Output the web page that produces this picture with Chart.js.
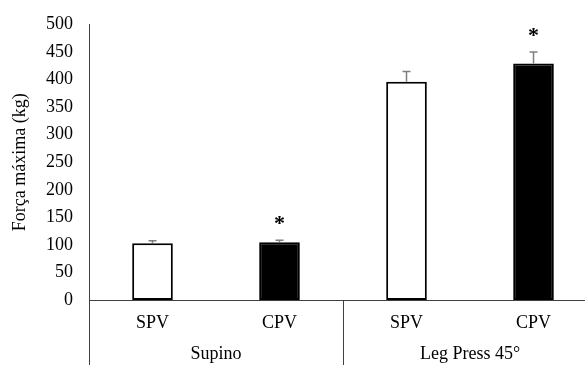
<!DOCTYPE html>
<html><head><meta charset="utf-8">
<script src="https://cdn.jsdelivr.net/npm/chart.js@4/dist/chart.umd.min.js"></script>
<style>
html,body{margin:0;padding:0;overflow:hidden;background:#fff;width:585px;height:365px}
#wrap{width:600px;height:365px;position:relative}
</style></head>
<body><div id="wrap"><canvas id="c" width="600" height="365"></canvas></div>
<script>
const categories = ['SPV', 'CPV', 'SPV', 'CPV'];
const groups = ['Supino', 'Leg Press 45°'];
const groupSize = 2;
const meanValues = [103, 104.7, 396, 429.4];
const sdValues = [4.6, 3.6, 18.5, 20.6];
const significant = [false, true, false, true];
const yMin = 0, yMax = 500, yStep = 50;
const yTitle = 'Força máxima (kg)';

const FONT = "'Liberation Serif', 'Times New Roman', serif";
Chart.defaults.font.family = FONT;
Chart.defaults.color = '#000';
const AXIS = '#404040';

const overlay = {
  id: 'overlay',
  afterDatasetsDraw(chart) {
    const ctx = chart.ctx, xs = chart.scales.x, ys = chart.scales.y;
    ctx.save();
    ctx.strokeStyle = '#7f7f7f';
    ctx.lineWidth = 1.5;
    meanValues.forEach((m, i) => {
      const x = xs.getPixelForValue(i);
      const y0 = ys.getPixelForValue(m);
      const y1 = ys.getPixelForValue(m + sdValues[i]);
      ctx.beginPath();
      ctx.moveTo(x, y0); ctx.lineTo(x, y1);
      ctx.moveTo(x - 4, y1); ctx.lineTo(x + 4, y1);
      ctx.stroke();
      if (significant[i]) {
        ctx.fillStyle = '#000';
        ctx.font = 'bold 22px ' + FONT;
        ctx.textAlign = 'center';
        ctx.textBaseline = 'middle';
        ctx.fillText('*', x, y1 - 20 + 3.8);
      }
    });
    ctx.restore();
  },
  afterDraw(chart) {
    const ctx = chart.ctx, xs = chart.scales.x;
    const bottom = chart.height;
    ctx.save();
    ctx.strokeStyle = AXIS;
    ctx.lineWidth = 1;
    for (let g = 0; g <= groups.length; g++) {
      const x = Math.round(xs.getPixelForValue(g * groupSize - 0.5)) + 0.5;
      ctx.beginPath();
      ctx.moveTo(x, chart.chartArea.bottom);
      ctx.lineTo(x, bottom);
      ctx.stroke();
    }
    ctx.fillStyle = '#000';
    ctx.font = '18px ' + FONT;
    ctx.textAlign = 'center';
    ctx.textBaseline = 'middle';
    groups.forEach((name, g) => {
      const a = xs.getPixelForValue(g * groupSize - 0.5);
      const b = xs.getPixelForValue((g + 1) * groupSize - 0.5);
      ctx.fillText(name, (a + b) / 2, chart.chartArea.bottom + 54);
    });
    ctx.restore();
  }
};

new Chart(document.getElementById('c'), {
  type: 'bar',
  data: {
    labels: categories,
    datasets: [{
      data: meanValues,
      backgroundColor: categories.map(c => c === 'SPV' ? '#ffffff' : '#000000'),
      borderColor: '#000',
      borderWidth: 2,
      borderSkipped: false,
      barPercentage: 0.32,
      categoryPercentage: 1
    }]
  },
  options: {
    responsive: false,
    animation: false,
    devicePixelRatio: 1,
    layout: { padding: { top: 24.5, right: 3, bottom: 0, left: 0 } },
    plugins: { legend: { display: false }, tooltip: { enabled: false } },
    scales: {
      x: {
        type: 'category',
        offset: true,
        grid: { display: false, drawTicks: false },
        border: { display: true, color: AXIS, width: 1 },
        ticks: { font: { size: 18 }, color: '#000', padding: 12, maxRotation: 0 },
        afterFit: s => { s.height = 65; }
      },
      y: {
        min: yMin, max: yMax,
        grid: { display: false, drawTicks: false },
        border: { display: true, color: AXIS, width: 1 },
        ticks: { stepSize: yStep, font: { size: 18 }, color: '#000', padding: 16 },
        title: { display: true, text: yTitle, font: { size: 18 }, color: '#000', padding: { top: 9, bottom: 0 } },
        afterFit: s => { s.width = 89; s.paddingTop = 0; }
      }
    }
  },
  plugins: [overlay]
});
</script>
</body></html>
